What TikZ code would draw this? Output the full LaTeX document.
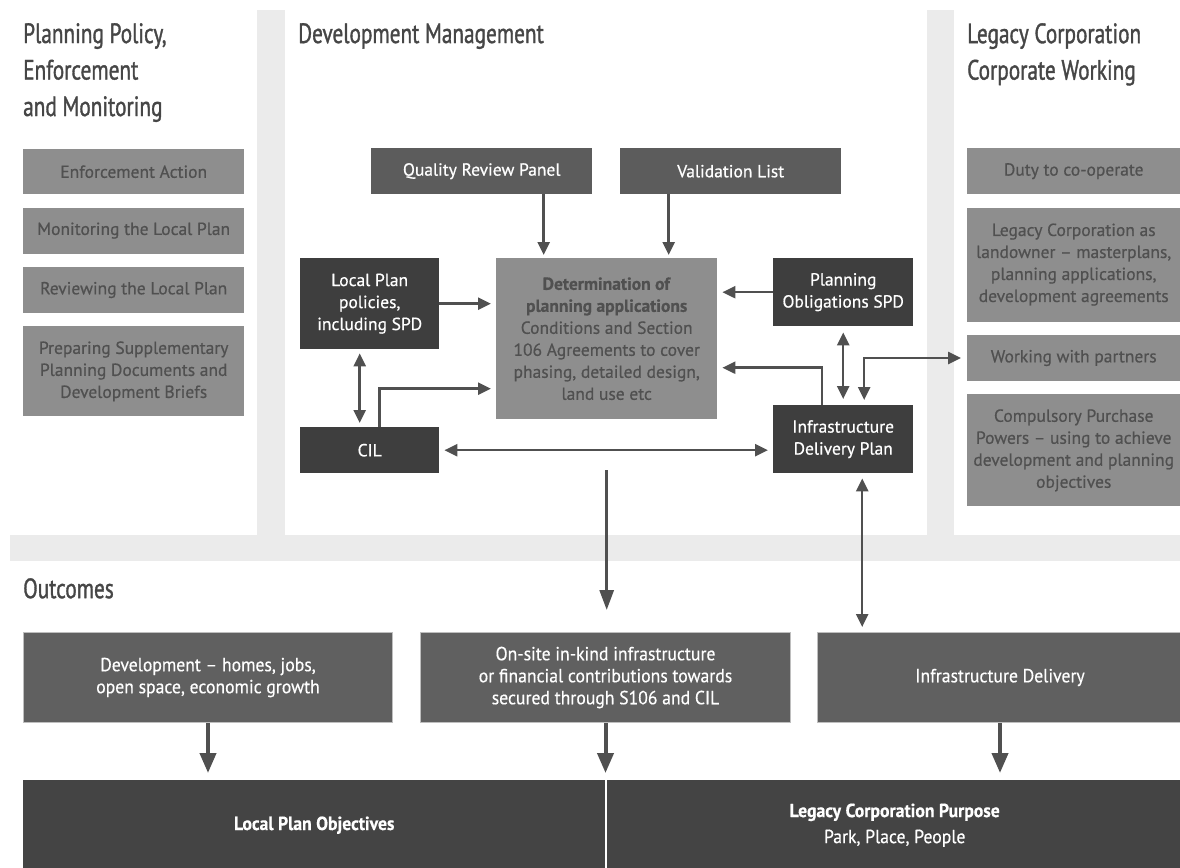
\documentclass[tikz,border=0pt]{standalone}
\usepackage{fontspec}
\usepackage{tikz}
\usetikzlibrary{
    arrows.meta,
    positioning,
    calc
}
\newfontfamily\boxfont{PT Sans}[FakeBold=0.6]
\newfontfamily\hdrfont{PT Sans}[FakeStretch=0.76, FakeBold=1.2]
\newfontfamily\outfont{PT Sans}[FakeStretch=0.93, FakeBold=0.4]
\tikzset{
  hdr/.style    = {anchor=north west, inner sep=0pt, align=left, text=headGrey,
                   font=\hdrfont\fontsize{28}{36.5}\selectfont},
  pbox/.style   = {fill=paleBox, text=paleText, align=center, inner sep=0pt,
                   font=\boxfont\fontsize{17.5}{22}\selectfont},
  mbox/.style   = {pbox, fill=midBox, text=white},
  dbox/.style   = {pbox, fill=darkBox, text=white},
  obox/.style   = {pbox, fill=outBox, text=white, draw=lineGrey, line width=1pt,
                   font=\outfont\fontsize{19}{22}\selectfont},
  bbox/.style   = {pbox, fill=baseBox, text=white,
                   font=\outfont\fontsize{19}{26}\selectfont},
  arr/.style    = {-{Triangle[length=13pt,width=12pt]}, line width=2.5pt, arrGrey},
  darr/.style   = {{Triangle[length=13pt,width=12pt]}-{Triangle[length=13pt,width=12pt]},
                   line width=2.5pt, arrGrey},
  midarr/.style = {-{Triangle[length=20pt,width=14pt]}, line width=3pt, arrGrey},
  bigarr/.style = {-{Triangle[length=20pt,width=16pt]}, line width=4pt, arrGrey}
}
\definecolor{bandGrey}{RGB}{235,235,235}
\definecolor{headGrey}{RGB}{70,70,70}
\definecolor{paleBox}{RGB}{142,142,142}
\definecolor{paleText}{RGB}{80,80,80}
\definecolor{midBox}{RGB}{92,92,92}
\definecolor{darkBox}{RGB}{62,62,62}
\definecolor{outBox}{RGB}{96,96,96}
\definecolor{baseBox}{RGB}{68,68,68}
\definecolor{lineGrey}{RGB}{190,190,190}
\definecolor{arrGrey}{RGB}{80,80,80}

\begin{document}
\begin{tikzpicture}[x=1pt, y=-1pt, node distance=13pt]
\useasboundingbox (0,0) rectangle (1180,867);
\fill[bandGrey] (257,10) rectangle (285,540);
\fill[bandGrey] (927,10) rectangle (954,540);
\fill[bandGrey] (10,535) rectangle (1180,561);

\node[hdr] (pph) at (23,23) {Planning Policy,\\Enforcement\\and Monitoring};
\node[hdr] (dmh) at (298,23) {Development Management};
\node[hdr] (lch) at (967,23) {Legacy Corporation\\Corporate Working};
\node[hdr] (outh) at (23,578) {Outcomes};

\node[pbox, anchor=north west, minimum width=221, minimum height=45] (enf) at (23,149) {Enforcement Action};
\node[pbox, minimum width=221, minimum height=46, below=of enf] (mon) {Monitoring the Local Plan};
\node[pbox, minimum width=221, minimum height=46, below=of mon] (rev) {Reviewing the Local Plan};
\node[pbox, minimum width=221, minimum height=90, below=of rev] (spd) {Preparing Supplementary\\Planning Documents and\\Development Briefs};

\node[pbox, anchor=north west, minimum width=213, minimum height=46] (duty) at (967,148) {Duty to co-operate};
\node[pbox, minimum width=213, minimum height=114, below=of duty] (land) {Legacy Corporation as\\landowner – masterplans,\\planning applications,\\development agreements};
\node[pbox, minimum width=213, minimum height=46, below=of land] (wwp) {Working with partners};
\node[pbox, minimum width=213, minimum height=112, below=of wwp] (cpo) {Compulsory Purchase\\Powers – using to achieve\\development and planning\\objectives};

\node[mbox, anchor=north west, minimum width=221, minimum height=46] (qrp) at (371,148) {Quality Review Panel};
\node[mbox, anchor=north west, minimum width=221, minimum height=46] (val) at (620,148) {Validation List};
\node[dbox, anchor=north west, minimum width=139, minimum height=91] (lpp) at (300,258) {Local Plan\\policies,\\including SPD};
\node[pbox, anchor=north west, minimum width=221, minimum height=161] (det) at (496,258) {\textbf{Determination of}\\\textbf{planning applications}\\Conditions and Section\\106 Agreements to cover\\phasing, detailed design,\\land use etc};
\node[dbox, anchor=north west, minimum width=140, minimum height=68] (pos) at (773,258) {Planning\\Obligations SPD};
\node[dbox, anchor=north west, minimum width=139, minimum height=46] (cil) at (300,427) {CIL};
\node[dbox, anchor=north west, minimum width=140, minimum height=68] (idp) at (773,405) {Infrastructure\\Delivery Plan};

\node[obox, anchor=north west, minimum width=369, minimum height=90] (dev) at (23,632) {Development – homes, jobs,\\open space, economic growth};
\node[obox, anchor=north west, minimum width=370, minimum height=90] (ons) at (420,632) {On-site in-kind infrastructure\\or financial contributions towards\\secured through S106 and CIL};
\node[obox, anchor=north west, minimum width=365, minimum height=90] (ifd) at (817,632) {Infrastructure Delivery};
\node[bbox, anchor=north west, minimum width=582, minimum height=90] (lpo) at (23,780) {\textbf{Local Plan Objectives}};
\node[bbox, anchor=north west, minimum width=575, minimum height=90] (lcp) at (607,780) {\textbf{Legacy Corporation Purpose}\\Park, Place, People};

\draw[arr, shorten >=3pt] ([xshift=62pt]qrp.south) -- ([xshift=62pt]qrp.south |- det.north);
\draw[arr, shorten >=3pt] ([xshift=-62pt]val.south) -- ([xshift=-62pt]val.south |- det.north);
\draw[arr, shorten >=5pt] (lpp.east) -- (lpp.east -| det.west);
\draw[arr, shorten >=5pt] (pos.west) -- (pos.west -| det.east);
\draw[darr, shorten <=4pt, shorten >=4pt] ([xshift=-10pt]lpp.south) -- ([xshift=-10pt]lpp.south |- cil.north);
\draw[arr, shorten >=5pt] ([xshift=10pt]cil.north) |- ([yshift=-50pt]det.west);
\draw[darr, shorten <=5pt, shorten >=5pt] (cil.east) -- (cil.east -| idp.west);
\draw[darr, shorten <=6pt, shorten >=6pt] (pos.south) -- (idp.north);
\draw[arr, shorten >=5pt] ([xshift=-21pt]idp.north) |- ([yshift=-29pt]det.east);
\draw[darr, shorten <=6pt, shorten >=5pt] (wwp.west) -| ([xshift=21pt]idp.north);
\coordinate (detout) at ([yshift=-51pt]det.south);
\draw[midarr, shorten >=22pt] (detout) -- (detout |- ons.north);
\draw[darr, shorten <=5pt, shorten >=5pt] ([xshift=19pt]idp.south) -- ([xshift=19pt]idp.south |- ifd.north);
\draw[bigarr, shorten >=7pt] (dev.south) -- (dev.south |- lpo.north);
\draw[bigarr, shorten >=7pt] (ons.south) -- (ons.south |- lpo.north);
\draw[bigarr, shorten >=7pt] (ifd.south) -- (ifd.south |- lcp.north);
\end{tikzpicture}
\end{document}
